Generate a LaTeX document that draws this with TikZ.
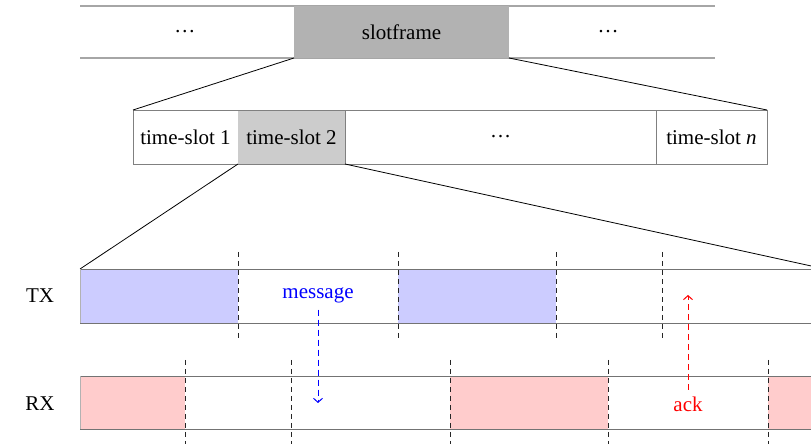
\documentclass[tikz,border=0pt]{standalone}
\usepackage{fontspec}
\setmainfont{Liberation Serif}
\usetikzlibrary{arrows.meta}

\begin{document}
\begin{tikzpicture}[x=0.5pt,y=-0.5pt,
		font=\fontsize{10.5}{12}\selectfont,
		slotbox/.style={draw=black!50,minimum height=27pt,inner sep=0pt,outer sep=0pt},
		frameline/.style={black!35,line width=0.6pt},
		rowline/.style={black!55},
		slotmark/.style={black!85,line width=0.5pt,dash pattern=on 2.5pt off 2pt},
		signal/.style={line width=0.5pt,dash pattern=on 3pt off 2pt,-{Straight Barb[length=2pt,width=4.5pt]}}]
			\useasboundingbox (0,0) rectangle (811,444);
			\clip (0,0) rectangle (811,444);
			
			% slotframe
			\draw[frameline] (80,6) -- (715,6);
			\draw[frameline] (80,58) -- (715,58);
			\node[fill=black!30,minimum width=107.5pt,minimum height=26pt,inner sep=0pt,outer sep=0pt] (sf) at (401.5,32) {slotframe};
			\node (sfl) at (185,32) {\dots};
			\node (sfr) at (608,32) {\dots};
			
			% time-slots
			\node[slotbox,minimum width=52.5pt] (ts1) at (185.5,137) {time-slot 1};
			\node[slotbox,draw=none,fill=black!20,minimum width=53.5pt] (ts2) at (291.5,137) {time-slot 2};
			\node[slotbox,minimum width=155.5pt] (tsd) at (500.5,137) {\dots};
			\node[slotbox,minimum width=55.5pt] (tsn) at (711.5,137) {time-slot \textit{n}};
			\draw[black!50] (ts2.north west) -- (ts2.north east) (ts2.south west) -- (ts2.south east);
			
			\coordinate (txnw) at (80,269);
			\coordinate (txne) at (825,269);
			\draw (sf.south west) -- (ts1.north west);
			\draw (sf.south east) -- (tsn.north east);
			\draw (ts2.south west) -- (txnw);
			\draw (ts2.south east) -- (txne);
			
			% TX
			\foreach \a/\b in {80/238,398/556} {\fill[blue!20] (\a,269) rectangle (\b,323);}
			\draw[rowline] (80,269) -- (825,269) (80,323) -- (825,323);
			\draw[black!30] (80,269) -- (80,323);
			\foreach \x in {238,398,556,662} {\draw[slotmark] (\x,252) -- (\x,338);}
			\node (tx) at (40,296) {TX};
			
			% RX
			\foreach \a/\b in {80/185,450/608,768/926} {\fill[red!20] (\a,376) rectangle (\b,429);}
			\draw[rowline] (80,376) -- (825,376) (80,429) -- (825,429);
			\draw[black!30] (80,376) -- (80,429);
			\foreach \x in {185,291,450,608,768} {\draw[slotmark] (\x,360) -- (\x,444);}
			\node (rx) at (40,404) {RX};
			
			% message and ack
			\node[text=blue] (msg) at (318,295) {message};
			\coordinate (msgend) at (318,403);
			\draw[signal,blue] (msg.south) -- (msgend);
			\node[text=red] (ack) at (688,404) {ack};
			\coordinate (ackend) at (688,295);
			\draw[signal,red] (ack.north) -- (ackend);
		\end{tikzpicture}
\end{document}
